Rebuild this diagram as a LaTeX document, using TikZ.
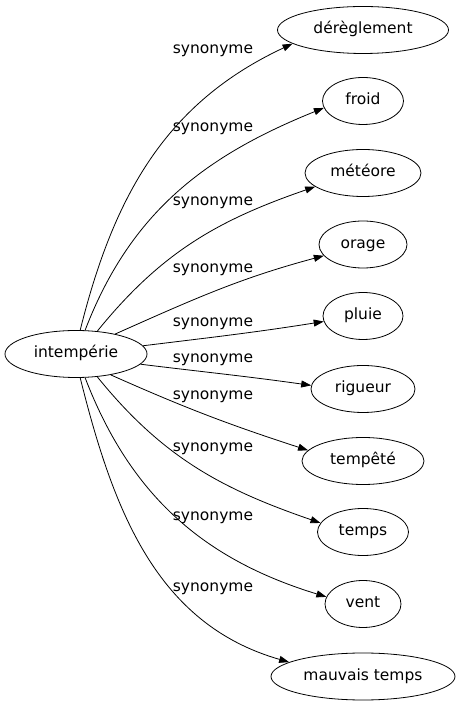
\documentclass[tikz,border=0pt]{standalone}
\usepackage{fontspec}
\setmainfont{DejaVu Sans}
\usetikzlibrary{shapes.geometric,arrows.meta}
\tikzset{
  mot/.style={shape=ellipse, draw, inner sep=0pt, minimum height=47pt,
    text height=11.5pt, text depth=3.5pt},
  rel/.style={inner sep=0pt, text height=11.5pt, text depth=3.5pt},
}
\begin{document}
\begin{tikzpicture}[x=1pt, y=1pt, line width=0.8pt,
    >={Triangle[length=10pt,width=7pt]}, font=\fontsize{15.5}{18}\selectfont]
    \useasboundingbox (0,0) rectangle (460,707);

    \node (I) [mot, minimum width=142pt] at (76, 353) {intempérie};

    \pgfmathsetmacro{\xr}{363};
    \node (d1) [mot, minimum width=171pt] at (\xr, 677) {dérèglement};
    \node (d2) [mot, minimum width=81pt] at (\xr, 606) {froid};
    \node (d3) [mot, minimum width=116pt] at (\xr, 534) {météore};
    \node (d4) [mot, minimum width=88pt] at (\xr, 462.5) {orage};
    \node (d5) [mot, minimum width=80pt] at (\xr, 391) {pluie};
    \node (d6) [mot, minimum width=104pt] at (\xr, 318) {rigueur};
    \node (d7) [mot, minimum width=122pt] at (\xr, 246) {tempêté};
    \node (d8) [mot, minimum width=91pt] at (\xr, 175) {temps};
    \node (d9) [mot, minimum width=76pt] at (\xr, 103) {vent};
    \node (d10) [mot, minimum width=184pt] at (\xr, 30.5) {mauvais temps};

    \pgfmathsetmacro{\xs}{213};
    \node (s1) [rel] at (\xs, 657) {synonyme};
    \node (s2) [rel] at (\xs, 579) {synonyme};
    \node (s3) [rel] at (\xs, 505) {synonyme};
    \node (s4) [rel] at (\xs, 438) {synonyme};
    \node (s5) [rel] at (\xs, 384) {synonyme};
    \node (s6) [rel] at (\xs, 348) {synonyme};
    \node (s7) [rel] at (\xs, 311) {synonyme};
    \node (s8) [rel] at (\xs, 259) {synonyme};
    \node (s9) [rel] at (\xs, 190) {synonyme};
    \node (s10) [rel] at (\xs, 119) {synonyme};

    \draw [->] (I.80) to[out=76, in=205] (d1.191);
    \draw [->] (I.69) to[out=69, in=202] (d2.190);
    \draw [->] (I.47) to[out=51, in=199] (d3.196);
    \draw [->] (I.27) to[out=24, in=195] (d4.196);
    \draw [->] (I.7) to[out=7, in=189] (d5.188);
    \draw [->] (I.-9) to[out=-7, in=172] (d6.176);
    \draw [->] (I.-31) to[out=-24, in=162] (d7.169);
    \draw [->] (I.-47) to[out=-51, in=161] (d8.168);
    \draw [->] (I.-69) to[out=-69, in=163] (d9.169);
    \draw [->] (I.-80) to[out=-76, in=164] (d10.169);

  \end{tikzpicture}
\end{document}
